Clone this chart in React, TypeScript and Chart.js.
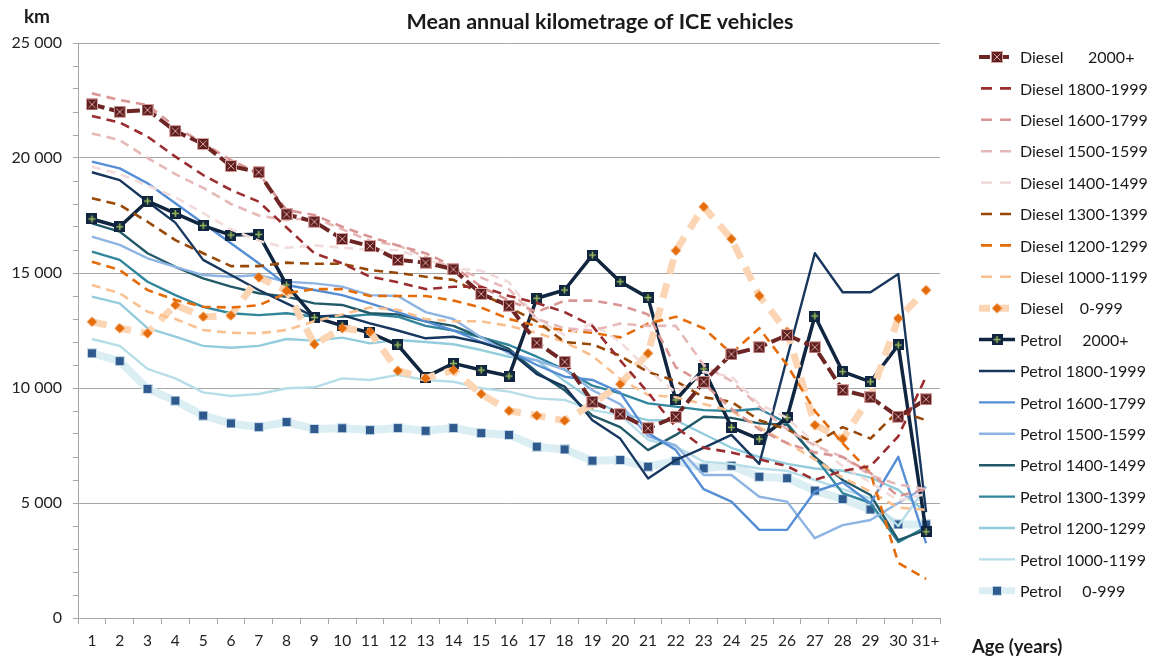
import React, { useEffect, useRef } from 'react';
import { Chart, registerables } from 'chart.js';

Chart.register(...registerables);

const categories = ['1','2','3','4','5','6','7','8','9','10','11','12','13','14','15','16','17','18','19','20','21','22','23','24','25','26','27','28','29','30','31+'];

const seriesLabels = [
  'Diesel      2000+', 'Diesel 1800-1999', 'Diesel 1600-1799', 'Diesel 1500-1599', 'Diesel 1400-1499',
  'Diesel 1300-1399', 'Diesel 1200-1299', 'Diesel 1000-1199', 'Diesel    0-999',
  'Petrol     2000+', 'Petrol 1800-1999', 'Petrol 1600-1799', 'Petrol 1500-1599', 'Petrol 1400-1499',
  'Petrol 1300-1399', 'Petrol 1200-1299', 'Petrol 1000-1199', 'Petrol     0-999',
];

const yTicks = [0, 5000, 10000, 15000, 20000, 25000];

const diesel2000 = [22330, 22010, 22090, 21170, 20610, 19650, 19380, 17550, 17230, 16480, 16170, 15570, 15450, 15160, 14090, 13580, 11970, 11140, 9400, 8860, 8250, 8750, 10270, 11470, 11770, 12300, 11770, 9910, 9600, 8750, 9510];
const diesel1800 = [21830, 21540, 20930, 20060, 19260, 18610, 18100, 16980, 15860, 15420, 14840, 14600, 14300, 14400, 14400, 14000, 13700, 13300, 12700, 11200, 9800, 8300, 7400, 7200, 6900, 6600, 6000, 6400, 6600, 7900, 10500];
const diesel1600 = [22810, 22520, 22300, 21360, 20640, 19910, 19330, 17740, 17520, 17010, 16580, 16200, 15860, 15300, 14400, 13800, 13300, 13800, 13800, 13600, 13200, 10900, 10200, 9100, 8200, 7600, 7200, 7000, 6300, 5300, 5600];
const diesel1500 = [21070, 20780, 20000, 19300, 18700, 18000, 17500, 17300, 17400, 16900, 16400, 16200, 15700, 15200, 14800, 14300, 13000, 12600, 12500, 12800, 12700, 12700, 11000, 10300, 9200, 8200, 7500, 7000, 6200, 5800, 5600];
const diesel1400 = [19620, 19300, 18800, 18300, 17600, 16900, 16400, 16100, 16200, 16100, 16000, 16000, 15600, 15200, 15100, 14600, 13000, 12300, 12800, 12000, 10800, 9800, 10700, 10500, 9300, 8700, 7600, 6600, 5900, 5100, 5400];
const diesel1300 = [18250, 17960, 17230, 16430, 15860, 15300, 15300, 15450, 15400, 15400, 15130, 15000, 14840, 14700, 14100, 13500, 12900, 12000, 11900, 11400, 10700, 10300, 9600, 9400, 8600, 8200, 7600, 8300, 7800, 9000, 8600];
const diesel1200 = [15490, 15130, 14260, 13830, 13530, 13500, 13600, 14120, 14300, 14300, 14000, 14000, 14000, 13800, 13500, 13000, 12700, 12500, 12400, 12200, 12800, 13100, 12600, 11500, 12600, 11000, 9000, 7600, 6300, 2400, 1700];
const diesel1000 = [14480, 14120, 13320, 13000, 12520, 12400, 12380, 12520, 12900, 13200, 13500, 13400, 13000, 12900, 12900, 12700, 12400, 12000, 11400, 10400, 9700, 9600, 9300, 9000, 8300, 7600, 6900, 6100, 5500, 4800, 4700];
const diesel0 = [12880, 12600, 12380, 13610, 13100, 13150, 14810, 14230, 11900, 12600, 12450, 10750, 10420, 10780, 9740, 9010, 8800, 8580, 9300, 10170, 11510, 15970, 17880, 16480, 14010, 12450, 8390, 7780, 9650, 13030, 14260];
const petrol2000 = [17350, 17010, 18130, 17590, 17060, 16650, 16680, 14480, 13070, 12710, 12400, 11870, 10470, 11070, 10780, 10520, 13900, 14260, 15780, 14620, 13930, 9480, 10830, 8290, 7780, 8710, 13130, 10710, 10270, 11870, 3750];
const petrol1800 = [19380, 19040, 18100, 17190, 15570, 14910, 14260, 13680, 13100, 13170, 12810, 12500, 12160, 12230, 11970, 11600, 10600, 10060, 8600, 7800, 6070, 6870, 7400, 7960, 6700, 11300, 15860, 14160, 14160, 14960, 4600];
const petrol1600 = [19840, 19550, 18900, 18030, 17160, 16290, 15420, 14480, 14260, 14040, 13680, 13300, 12900, 12500, 12000, 11600, 11000, 10490, 10350, 9800, 8040, 7300, 5600, 5060, 3830, 3830, 5500, 5900, 4990, 7010, 3250];
const petrol1500 = [16580, 16220, 15640, 15270, 14910, 14840, 14910, 14620, 14550, 14410, 14040, 14000, 13300, 13000, 12200, 11500, 11200, 10800, 9900, 9300, 7900, 7500, 6220, 6220, 5270, 5060, 3470, 4040, 4260, 5000, 5710];
const petrol1400 = [17160, 16800, 15860, 15270, 14770, 14410, 14120, 13970, 13680, 13610, 13250, 13200, 12900, 12700, 12200, 11700, 10700, 9900, 8800, 8300, 7300, 7960, 8750, 8700, 8460, 8400, 7000, 6000, 5350, 3390, 3830];
const petrol1300 = [15930, 15570, 14620, 14040, 13530, 13250, 13170, 13250, 13100, 13100, 13200, 13100, 12700, 12500, 12200, 11870, 11360, 10800, 10100, 9770, 9330, 9190, 9040, 9000, 9100, 8470, 7000, 5430, 5000, 3300, 3970];
const petrol1200 = [13970, 13680, 12600, 12230, 11830, 11750, 11830, 12130, 12060, 12190, 11940, 12090, 12000, 11900, 11650, 11360, 11200, 10300, 9480, 8900, 8600, 8600, 8000, 7400, 7000, 6700, 6500, 6400, 6100, 5570, 4600];
const petrol1000 = [12130, 11830, 10830, 10420, 9810, 9650, 9740, 9990, 10030, 10420, 10350, 10570, 10350, 10270, 9990, 9840, 9550, 9480, 9040, 8830, 7740, 7450, 6800, 6700, 6500, 6400, 6000, 5600, 5200, 4000, 5700];
const petrol0 = [11510, 11170, 9960, 9450, 8800, 8460, 8300, 8520, 8220, 8250, 8170, 8260, 8140, 8260, 8040, 7960, 7450, 7330, 6840, 6870, 6580, 6830, 6510, 6620, 6140, 6080, 5540, 5170, 4720, 4070, 4070];

const seriesValues = [
  diesel2000, diesel1800, diesel1600, diesel1500, diesel1400, diesel1300, diesel1200, diesel1000, diesel0,
  petrol2000, petrol1800, petrol1600, petrol1500, petrol1400, petrol1300, petrol1200, petrol1000, petrol0,
];

type Style = { color: string; width: number; dash: number[]; marker?: string };
const styles: Style[] = [
  { color: '#6E2624', width: 4, dash: [13, 5], marker: 'xbox' },
  { color: '#9B2D30', width: 2.6, dash: [9, 6] },
  { color: '#D99694', width: 2.6, dash: [9, 6] },
  { color: '#E6B9B8', width: 2.6, dash: [9, 6] },
  { color: '#F2DCDB', width: 2.6, dash: [9, 6] },
  { color: '#984807', width: 2.6, dash: [9, 6] },
  { color: '#E46C0A', width: 2.6, dash: [9, 6] },
  { color: '#FAC090', width: 2.6, dash: [9, 6] },
  { color: '#FCD5B5', width: 7, dash: [15, 10], marker: 'diamond' },
  { color: '#10253F', width: 3.5, dash: [], marker: 'plus' },
  { color: '#17375E', width: 2.4, dash: [] },
  { color: '#558ED5', width: 2.4, dash: [] },
  { color: '#8EB4E3', width: 2.4, dash: [] },
  { color: '#215968', width: 2.4, dash: [] },
  { color: '#31859C', width: 2.4, dash: [] },
  { color: '#93CDDD', width: 2.4, dash: [] },
  { color: '#B7DEE8', width: 2.4, dash: [] },
  { color: '#DBEEF4', width: 8, dash: [], marker: 'square' },
];

function makeMarker(kind: string): HTMLCanvasElement {
  const c = document.createElement('canvas');
  const s = kind === 'square' ? 10 : kind === 'plus' ? 11 : kind === 'diamond' ? 11 : 12;
  c.width = s; c.height = s;
  const g = c.getContext('2d')!;
  if (kind === 'xbox') {
    g.fillStyle = '#5E1F1E';
    g.fillRect(0, 0, s, s);
    g.strokeStyle = '#D9A3A2';
    g.lineWidth = 1;
    g.strokeRect(0.5, 0.5, s - 1, s - 1);
    g.beginPath();
    g.moveTo(2.5, 2.5); g.lineTo(s - 2.5, s - 2.5);
    g.moveTo(s - 2.5, 2.5); g.lineTo(2.5, s - 2.5);
    g.stroke();
  } else if (kind === 'plus') {
    g.fillStyle = '#10253F';
    g.fillRect(0, 0, s, s);
    g.strokeStyle = '#9BBB59';
    g.lineWidth = 1.5;
    g.beginPath();
    g.moveTo(s / 2, 2); g.lineTo(s / 2, s - 2);
    g.moveTo(2, s / 2); g.lineTo(s - 2, s / 2);
    g.stroke();
  } else if (kind === 'diamond') {
    g.fillStyle = '#E46C0A';
    g.beginPath();
    g.moveTo(s / 2, 0.5); g.lineTo(s - 0.5, s / 2); g.lineTo(s / 2, s - 0.5); g.lineTo(0.5, s / 2);
    g.closePath();
    g.fill();
  } else {
    g.fillStyle = '#2F5A8E';
    g.fillRect(0, 0, s, s);
    g.strokeStyle = '#C9DDEB';
    g.lineWidth = 1;
    g.strokeRect(0.5, 0.5, s - 1, s - 1);
  }
  return c;
}

function fmt(v: number): string {
  return v.toLocaleString('en-US').replace(/,/g, ' ');
}

export default function App() {
  const ref = useRef<HTMLCanvasElement>(null);
  useEffect(() => {
    document.body.style.margin = '0';
    const markers: Record<string, HTMLCanvasElement> = {
      xbox: makeMarker('xbox'), plus: makeMarker('plus'), diamond: makeMarker('diamond'), square: makeMarker('square'),
    };
    const FONT = 'Lato, "Open Sans", sans-serif';
    const datasets = seriesLabels.map((label, i) => {
      const st = styles[i];
      return {
        label,
        data: seriesValues[i],
        borderColor: st.color,
        backgroundColor: st.color,
        borderWidth: st.width,
        borderDash: st.dash,
        borderCapStyle: 'butt' as const,
        borderJoinStyle: 'round' as const,
        tension: 0,
        fill: false,
        pointStyle: st.marker ? (markers[st.marker] as any) : 'circle',
        pointRadius: st.marker ? 6 : 0,
        pointHoverRadius: st.marker ? 6 : 0,
      };
    });

    const overlay = {
      id: 'overlay',
      afterDraw(chart: any) {
        const ctx = chart.ctx as CanvasRenderingContext2D;
        ctx.save();
        ctx.fillStyle = '#1a1a1a';
        ctx.textBaseline = 'middle';
        ctx.textAlign = 'center';
        ctx.font = `bold 21.5px ${FONT}`;
        ctx.fillText('Mean annual kilometrage of ICE vehicles', 600, 22);
        ctx.font = `bold 19px ${FONT}`;
        ctx.fillText('km', 37, 17);
        ctx.textAlign = 'left';
        ctx.font = `bold 18.5px ${FONT}`;
        ctx.fillText('Age (years)', 972, 647);
        // legend
        const x0 = 979, len = 36, textX = 1020, y0 = 57, dy = 31.4;
        chart.data.datasets.forEach((ds: any, i: number) => {
          const y = y0 + i * dy;
          const st = styles[i];
          ctx.save();
          ctx.strokeStyle = st.color;
          ctx.lineWidth = Math.min(st.width, 7);
          ctx.setLineDash(st.dash.length ? [11, 8] : []);
          ctx.lineCap = 'butt';
          ctx.beginPath();
          if (st.dash.length && !st.marker) {
            ctx.moveTo(x0 + 2, y); ctx.lineTo(x0 + len, y);
          } else {
            ctx.moveTo(x0, y); ctx.lineTo(x0 + len, y);
          }
          ctx.stroke();
          ctx.restore();
          if (st.marker) {
            const m = markers[st.marker];
            ctx.drawImage(m, x0 + len / 2 - m.width / 2, y - m.height / 2);
          }
          ctx.fillStyle = '#1a1a1a';
          ctx.font = `16px ${FONT}`;
          ctx.textAlign = 'left';
          ctx.fillText(ds.label, textX, y + 1);
        });
        ctx.restore();
      },
    };

    const chart = new Chart(ref.current!, {
      type: 'line',
      data: { labels: categories, datasets },
      options: {
        animation: false,
        responsive: false,
        devicePixelRatio: 1,
        layout: { padding: { top: 43, right: 211, bottom: 0, left: 0 } },
        plugins: { legend: { display: false }, title: { display: false }, tooltip: { enabled: false } },
        scales: {
          x: {
            type: 'category',
            offset: true,
            grid: { offset: true, drawOnChartArea: false, drawTicks: true, tickLength: 6, color: '#a6a6a6' },
            border: { display: true, color: '#a6a6a6', width: 1 },
            ticks: { color: '#222', font: { family: FONT, size: 15.5 }, padding: 8, maxRotation: 0, autoSkip: false },
            afterFit: (s: any) => { s.height = 41; },
          },
          y: {
            min: 0,
            max: 25000,
            afterBuildTicks: (s: any) => {
              const t: any[] = [];
              for (let v = 0; v <= 25000; v += 1000) t.push({ value: v });
              s.ticks = t;
            },
            grid: {
              color: (c: any) => (c.tick && yTicks.includes(c.tick.value) ? '#a6a6a6' : 'rgba(0,0,0,0)'),
              tickColor: '#a6a6a6',
              tickLength: 5,
              lineWidth: 1,
            },
            border: { display: true, color: '#a6a6a6', width: 1 },
            ticks: {
              color: '#222',
              font: { family: FONT, size: 16 },
              padding: 11,
              autoSkip: false,
              callback: (v: any) => (yTicks.includes(Number(v)) ? fmt(Number(v)) : ''),
            },
            afterFit: (s: any) => { s.width = 78; },
          },
        },
      } as any,
      plugins: [overlay],
    });
    return () => chart.destroy();
  }, []);
  return (
    <div style={{ width: 1151, height: 659, background: '#fff' }}>
      <canvas ref={ref} width={1151} height={659} style={{ display: 'block' }} />
    </div>
  );
}
